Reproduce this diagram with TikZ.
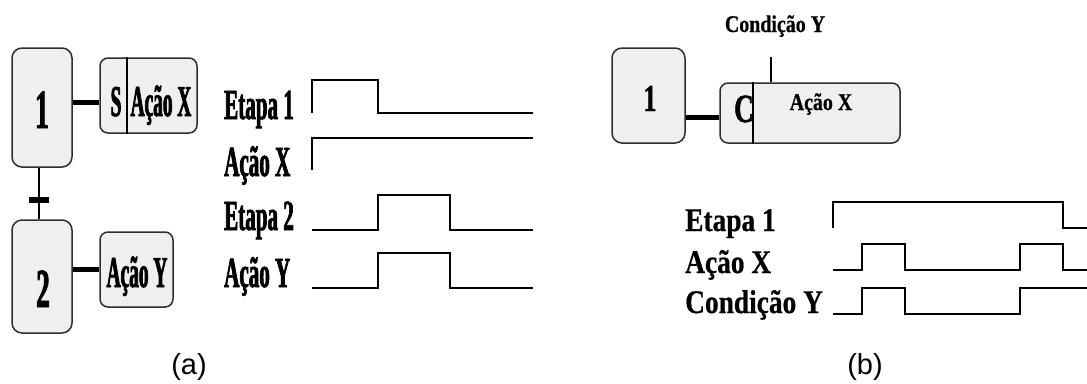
\documentclass[tikz,border=0pt]{standalone}
\usepackage{fontspec}
\setmainfont{Liberation Serif}
% condensed bold serif faces for the labels
\newfontfamily\narrowA[FakeStretch=0.49, BoldFeatures={FakeBold=1.6}]{Liberation Serif}
\newfontfamily\narrowB[FakeStretch=0.44, BoldFeatures={FakeBold=1.6}]{Liberation Serif}
\newfontfamily\narrowC[FakeStretch=0.83, BoldFeatures={FakeBold=0.6}]{Liberation Serif}
\newfontfamily\narrowD[FakeStretch=0.68, BoldFeatures={FakeBold=1.2}]{Liberation Serif}
\newfontfamily\capfont{Liberation Sans}
\definecolor{boxfill}{HTML}{EFEFEF}
\definecolor{boxline}{HTML}{2E2E2E}
\begin{document}
\begin{tikzpicture}[x=1pt,y=-1pt,
  stepbox/.style={draw=boxline, fill=boxfill, line width=1.5pt, rounded corners=10pt, inner sep=0pt},
  actbox/.style={draw=boxline, fill=boxfill, line width=1.5pt, rounded corners=8pt, inner sep=0pt},
  link/.style={line width=5pt},
  thin link/.style={line width=2.5pt},
  wave/.style={line width=1.6pt, line join=miter},
  txt/.style={inner sep=0pt},
  sigA/.style={txt, anchor=base west, font=\narrowA\bfseries\fontsize{43}{43}\selectfont},
  sigB/.style={txt, anchor=base west, font=\narrowC\bfseries\fontsize{33}{33}\selectfont},
  numA/.style={txt, anchor=base, font=\narrowA\bfseries\fontsize{55}{55}\selectfont},
  inA/.style={txt, anchor=base, font=\narrowB\bfseries\fontsize{44}{44}\selectfont},
  smallB/.style={txt, anchor=base, font=\narrowC\bfseries\fontsize{24}{24}\selectfont},
  caption/.style={txt, font=\capfont\fontsize{29}{29}\selectfont}]
\useasboundingbox (0,0) rectangle (1087,383);

% ---------- (a) Grafcet with stored action ----------
\node[stepbox, minimum width=60pt, minimum height=119pt] (s1) at (42,107.5) {};
\node[stepbox, minimum width=60pt, minimum height=113pt] (s2) at (42,276.5) {};
\node[actbox, minimum width=97pt, minimum height=75pt] (ax) at (148.5,95.5) {};
\node[actbox, minimum width=73pt, minimum height=75pt] (ay) at (136.5,269.5) {};
\node[numA] (n1) at (42,128) {1};
\node[numA] (n2) at (43,307) {2};
\draw[thin link] (127,0 |- ax.north) coordinate (dvt) -- (dvt |- ax.south);
\node[inA] (qs) at (116,116) {S};
\node[inA] (tx) at (161,116) {Ação X};
\node[inA] (ty) at (137,287) {Ação Y};
\draw[link] (s1.east |- 0,102) -- (ax.west |- 0,102);
\draw[link] (s2.east |- ay.west) -- (ay.west);
\node[fill=black, minimum width=20pt, minimum height=6pt, inner sep=0pt] (t1) at (39,200) {};
\draw[thin link] (t1 |- s1.south) -- (t1 |- s2.north);

\node[sigA] (e1) at (224,119) {Etapa 1};
\node[sigA] (a1) at (224,176) {Ação X};
\node[sigA] (e2) at (224,230) {Etapa 2};
\node[sigA] (a2) at (224,287) {Ação Y};

\draw[wave] (312,113) -- (312,80) -- (378,80) -- (378,113) -- (533,113);
\draw[wave] (312,170) -- (312,138) -- (533,138);
\draw[wave] (312,230) -- (378,230) -- (378,195) -- (450,195) -- (450,230) -- (533,230);
\draw[wave] (312,288) -- (378,288) -- (378,253) -- (450,253) -- (450,288) -- (533,288);

\node[caption] (capa) at (189,367) {(a)};

% ---------- (b) Grafcet with conditional action ----------
\node[stepbox, minimum width=73pt, minimum height=95pt] (s1b) at (648.5,95.5) {};
\node[actbox, minimum width=180pt, minimum height=60pt] (axb) at (810,113) {};
\node[txt, anchor=base, font=\narrowD\bfseries\fontsize{38}{38}\selectfont] (n1b) at (650,111) {1};
\node[txt, anchor=base, font=\narrowD\bfseries\fontsize{40}{40}\selectfont] (qc) at (744,122) {C};
\draw[thin link] (753,0 |- axb.north) coordinate (dvb) -- (dvb |- axb.south);
\node[smallB] (txb) at (821,110) {Ação X};
\draw[link] (s1b.east |- 0,117) -- (axb.west |- 0,117);
\node[smallB] (cond) at (775,32) {Condição Y};
\coordinate (cy) at (771,57);
\draw[thin link] (cy) -- (cy |- axb.north);

\node[sigB] (e1b) at (685,231) {Etapa 1};
\node[sigB] (a1b) at (685,273) {Ação X};
\node[sigB] (c1b) at (685,313) {Condição Y};

\draw[wave] (833,228) -- (833,202) -- (1063,202) -- (1063,228) -- (1087,228);
\draw[wave] (833,270) -- (862,270) -- (862,244) -- (905,244) -- (905,270) -- (1020,270) -- (1020,244) -- (1063,244) -- (1063,270) -- (1087,270);
\draw[wave] (833,314) -- (862,314) -- (862,288) -- (905,288) -- (905,314) -- (1020,314) -- (1020,288) -- (1087,288);

\node[caption] (capb) at (865,367) {(b)};
\end{tikzpicture}
\end{document}
